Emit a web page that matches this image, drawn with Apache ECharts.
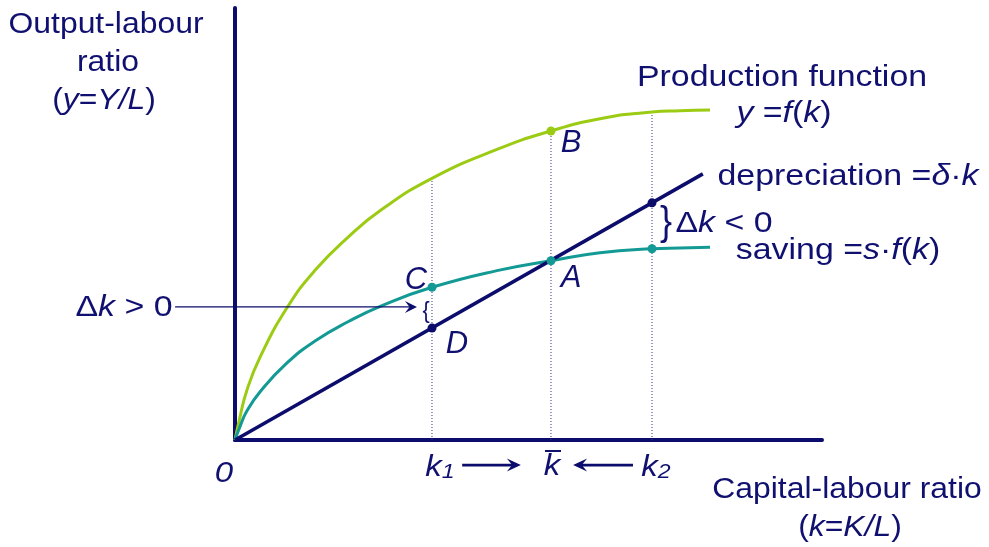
<!DOCTYPE html>
<html>
<head>
<meta charset="utf-8">
<script src="https://cdn.jsdelivr.net/npm/echarts@6/dist/echarts.min.js"></script>
<style>
  html, body { margin: 0; background: #fff; }
  #chart { width: 989px; height: 547px; }
</style>
</head>
<body>
<div id="chart"></div>
<script>
// values, both axes on a 0..100 scale
const kSamples = [0, 0.73, 2.04, 4.31, 8.86, 13.63, 19.42, 25.04, 33.56, 44.63, 53.83, 62.18, 71.04, 75.81, 80.92];
const outputY  = [0, 4.63, 11.57, 19.28, 30.60, 39.28, 47.15, 53.40, 60.58, 67.25, 71.53, 74.35, 75.93, 76.20, 76.39];
const savingY  = [0, 2.70, 6.75, 11.24, 17.84, 22.90, 27.49, 31.13, 35.35, 39.21, 41.50, 43.35, 44.27, 44.45, 44.60];
const deprK = [0, 79.7];
const deprY = [0, 61.6];

// k1, k-bar, k2 and how high the dotted guide goes at each
const kMarks = [33.56, 53.83, 71.04];
const guideTops = [60.58, 71.53, 75.93];

// marked points on each curve
const savingPtK = [33.56, 53.83, 71.04];
const savingPtY = [35.35, 41.50, 44.27];
const savingPtName = ['C', 'A', ''];
const deprPtK = [33.56, 71.04];
const deprPtY = [25.9, 54.9];
const deprPtName = ['D', ''];
const outputPtK = [53.83];
const outputPtY = [71.53];
const outputPtName = ['B'];

// arrows [from k, to k (tip), level]: "Δk > 0" pointer, then the two under the k axis
const arrowFromK = [-10.2, 38.7, 67.8];
const arrowToK = [31.0, 48.7, 57.6];
const arrowLevel = [30.8, -5.8, -5.8];

const ink = '#101070';
const navy = '#0c0c6c';
const green = '#9ccb14';
const teal = '#149a95';
const FONT = '"Liberation Sans", Arial, sans-serif';

const zip = (a, b) => a.map((v, i) => [v, b[i]]);

const labelOffsets = { C: [-16, -7], D: [25, 16], A: [20, 18], B: [20, 12] };

function pointSeries(ks, ys, names, color) {
  return {
    type: 'scatter',
    z: 5,
    symbolSize: 9,
    itemStyle: { color: color, opacity: 1 },
    data: ks.map((k, i) => ({
      value: [k, ys[i]],
      name: names[i],
      label: {
        show: names[i] !== '',
        position: 'inside',
        offset: labelOffsets[names[i]] || [0, 0],
        formatter: '{b}',
        color: ink,
        fontSize: 31,
        fontStyle: 'italic',
        fontFamily: FONT,
      },
    })),
  };
}

function guideSeries() {
  return kMarks.map((k, i) => ({
    type: 'line',
    silent: true,
    z: 1,
    symbol: 'none',
    lineStyle: { color: '#34348a', width: 1, type: [1, 2] },
    data: [[k, 0], [k, guideTops[i]]],
  }));
}

// arrows drawn with a custom series so they may run outside the plot area
const arrowSeries = {
  type: 'custom',
  clip: false,
  silent: true,
  z: 4,
  data: arrowFromK.map((k, i) => [k, arrowToK[i], arrowLevel[i]]),
  renderItem: function (params, api) {
    const p0 = api.coord([api.value(0), api.value(2)]);
    const p1 = api.coord([api.value(1), api.value(2)]);
    const thin = params.dataIndex === 0;
    const d = p1[0] > p0[0] ? 1 : -1;
    const L = thin ? 12 : 14;
    const H = thin ? 12 : 13;
    const tx = p1[0], ty = p1[1];
    return {
      type: 'group',
      children: [
        {
          type: 'line',
          shape: { x1: p0[0], y1: p0[1], x2: tx - d * L * 0.5, y2: ty },
          style: { stroke: navy, lineWidth: thin ? 1.3 : 2.8 },
        },
        {
          type: 'polygon',
          shape: { points: [[tx, ty], [tx - d * L, ty - H / 2], [tx - d * L * 0.62, ty], [tx - d * L, ty + H / 2]] },
          style: { fill: navy },
        },
      ],
    };
  },
};

function txt(x, y, text, size, sx) {
  const rich = {
    i: { fontSize: size, fontFamily: FONT, fill: ink, fontStyle: 'italic' },
    s: { fontSize: Math.round(size * 0.7), fontFamily: FONT, fill: ink, fontStyle: 'italic',
         verticalAlign: 'bottom', lineHeight: Math.round(size * 0.7) },
  };
  return {
    type: 'text',
    x: x,
    y: y,
    scaleX: sx,
    silent: true,
    z: 10,
    style: {
      text: text,
      font: size + 'px ' + FONT,
      fill: ink,
      align: 'center',
      verticalAlign: 'middle',
      rich: rich,
    },
  };
}

const chart = echarts.init(document.getElementById('chart'));

chart.setOption({
  animation: false,
  backgroundColor: '#fff',
  grid: { left: 235, right: 167, top: 8, bottom: 107 },
  xAxis: {
    type: 'value', min: 0, max: 100,
    axisLine: { lineStyle: { color: navy, width: 4 } },
    axisTick: { show: false }, axisLabel: { show: false }, splitLine: { show: false },
  },
  yAxis: {
    type: 'value', min: 0, max: 100,
    axisLine: { show: true, lineStyle: { color: navy, width: 4 } },
    axisTick: { show: false }, axisLabel: { show: false }, splitLine: { show: false },
  },
  series: [
    ...guideSeries(),
    {
      type: 'line', name: 'output', z: 3, symbol: 'none', smooth: 0.5,
      lineStyle: { color: green, width: 3 },
      data: zip(kSamples, outputY),
    },
    {
      type: 'line', name: 'saving', z: 3, symbol: 'none', smooth: 0.5,
      lineStyle: { color: teal, width: 3 },
      data: zip(kSamples, savingY),
    },
    {
      type: 'line', name: 'depreciation', z: 3, symbol: 'none',
      lineStyle: { color: navy, width: 3.5 },
      data: zip(deprK, deprY),
    },
    pointSeries(savingPtK, savingPtY, savingPtName, teal),
    pointSeries(deprPtK, deprPtY, deprPtName, navy),
    pointSeries(outputPtK, outputPtY, outputPtName, green),
    arrowSeries,
  ],
  graphic: [
    txt(106, 25, 'Output-labour', 29, 1.1),
    txt(108, 63, 'ratio', 29, 1.1),
    txt(104, 101, '({i|y}={i|Y/L})', 29, 1.1),
    txt(782, 78, 'Production function', 30, 1.13),
    txt(784, 114, '{i|y} ={i|f}({i|k})', 30, 1.13),
    txt(848, 177, 'depreciation ={i|δ}·{i|k}', 30, 1.13),
    txt(666, 224, '}', 40, 0.9),
    txt(724, 224, 'Δ{i|k} < 0', 30, 1.13),
    txt(838, 251, 'saving ={i|s}·{i|f}({i|k})', 30, 1.13),
    txt(124, 308, 'Δ{i|k} > 0', 30, 1.13),
    txt(426, 311, '{', 24, 0.9),
    txt(440, 468, '{i|k}{s|1}', 30, 1.1),
    txt(552, 467, '{i|k}', 30, 1.1),
    {
      type: 'line', silent: true, z: 10,
      shape: { x1: 545, y1: 451, x2: 561, y2: 451 },
      style: { stroke: ink, lineWidth: 2 },
    },
    txt(656, 468, '{i|k}{s|2}', 30, 1.1),
    txt(224, 474, '{i|0}', 30, 1.1),
    txt(847, 490, 'Capital-labour ratio', 29, 1.1),
    txt(850, 528, '({i|k}={i|K/L})', 29, 1.1),
  ],
});

window.addEventListener('resize', () => chart.resize());
</script>
</body>
</html>
